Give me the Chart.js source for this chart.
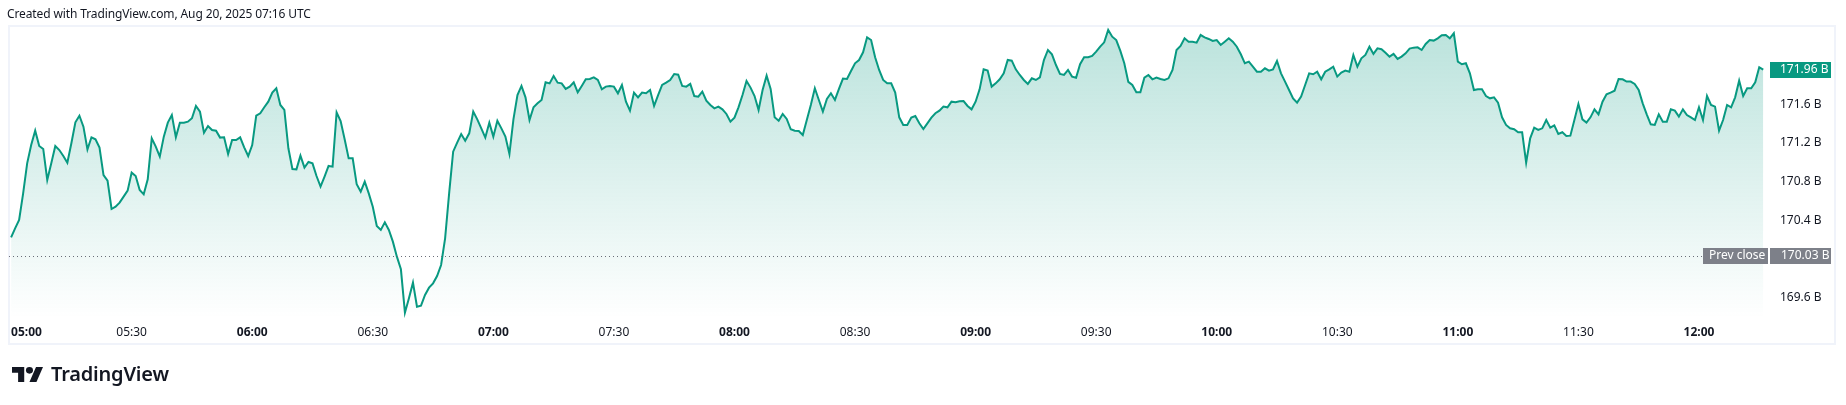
<!DOCTYPE html>
<html>
<head>
<meta charset="utf-8">
<title>Market cap, Aug 20, 2025</title>
<script src="https://cdn.jsdelivr.net/npm/chart.js@4.4.1/dist/chart.umd.min.js"></script>
<style>
  html, body { margin: 0; padding: 0; background: #fff; }
  body { width: 1846px; height: 405px; position: relative; overflow: hidden; font-family: "Noto Sans", sans-serif; }
  #chart { position: absolute; left: 0; top: 0; }
  #hdr { position: absolute; left: 7px; top: 6px; font-size: 12px; line-height: 16px; letter-spacing: -0.12px; color: #131722; white-space: nowrap; }
  #logo { position: absolute; left: 12px; top: 362px; height: 24px; display: flex; align-items: center; color: #131722; }
  #logo svg { display: block; margin-right: 8px; }
  #logo span { font-size: 20px; font-weight: 600; letter-spacing: -0.2px; line-height: 24px; }
</style>
</head>
<body>
<canvas id="chart" width="1846" height="405"></canvas>
<div id="hdr">Created with TradingView.com, Aug 20, 2025 07:16 UTC</div>
<div id="logo">
  <svg width="31" height="15" viewBox="0 4 35.5 18" preserveAspectRatio="none" fill="#131722">
    <path d="M14 22H7V11H0V4h14v18zM28 22h-8l7.5-18h8L28 22z"/><circle cx="20" cy="8" r="4"/>
  </svg>
  <span>TradingView</span>
</div>
<script>
// 1-minute values, in billions, starting 05:00
var h05 = [
  170.221, 170.315, 170.401, 170.677, 170.988, 171.178, 171.327, 171.168, 171.137, 170.816,
  170.988, 171.168, 171.126, 171.064, 170.995, 171.196, 171.413, 171.482, 171.368, 171.133,
  171.258, 171.237, 171.151, 170.867, 170.809, 170.515, 170.539, 170.581, 170.643, 170.705,
  170.892, 170.857, 170.712, 170.667, 170.823, 171.247, 171.161, 171.058, 171.265, 171.410,
  171.489, 171.258, 171.410, 171.410, 171.420, 171.455, 171.583, 171.524, 171.306, 171.375,
  171.334, 171.327, 171.255, 171.258, 171.085, 171.230, 171.230, 171.258, 171.154, 171.064
];
var h06 = [
  171.178, 171.482, 171.507, 171.569, 171.627, 171.721, 171.766, 171.593, 171.541, 171.144,
  170.930, 170.926, 171.068, 170.944, 171.002, 170.988, 170.857, 170.747, 170.851, 170.961,
  170.954, 171.517, 171.427, 171.237, 171.040, 171.040, 170.771, 170.695, 170.799, 170.677,
  170.539, 170.339, 170.298, 170.377, 170.298, 170.177, 170.021, 169.890, 169.441, 169.590,
  169.752, 169.503, 169.514, 169.624, 169.700, 169.745, 169.821, 169.935, 170.211, 170.677,
  171.109, 171.203, 171.292, 171.223, 171.299, 171.524, 171.444, 171.351, 171.255, 171.410
];
var h07 = [
  171.265, 171.430, 171.351, 171.265, 171.085, 171.444, 171.696, 171.790, 171.672, 171.437,
  171.569, 171.610, 171.645, 171.828, 171.817, 171.893, 171.824, 171.817, 171.759, 171.783,
  171.828, 171.724, 171.790, 171.859, 171.862, 171.879, 171.852, 171.755, 171.783, 171.790,
  171.783, 171.714, 171.800, 171.627, 171.534, 171.721, 171.672, 171.721, 171.714, 171.748,
  171.583, 171.696, 171.800, 171.824, 171.852, 171.914, 171.907, 171.790, 171.783, 171.811,
  171.686, 171.679, 171.731, 171.638, 171.593, 171.558, 171.576, 171.548, 171.500, 171.420
];
var h08 = [
  171.462, 171.569, 171.696, 171.842, 171.773, 171.686, 171.541, 171.748, 171.897, 171.759,
  171.465, 171.430, 171.500, 171.448, 171.341, 171.327, 171.323, 171.282, 171.437, 171.593,
  171.766, 171.645, 171.524, 171.655, 171.714, 171.645, 171.759, 171.866, 171.862, 171.945,
  172.025, 172.059, 172.139, 172.294, 172.266, 172.087, 171.956, 171.852, 171.817, 171.817,
  171.721, 171.465, 171.386, 171.386, 171.462, 171.479, 171.403, 171.344, 171.403, 171.462,
  171.507, 171.534, 171.576, 171.569, 171.627, 171.621, 171.631, 171.634, 171.583, 171.548
];
var h09 = [
  171.627, 171.755, 171.962, 171.949, 171.783, 171.817, 171.859, 171.921, 172.059, 172.052,
  171.962, 171.904, 171.852, 171.811, 171.869, 171.852, 171.879, 172.059, 172.163, 172.118,
  172.007, 171.914, 171.904, 171.956, 171.887, 171.876, 172.015, 172.087, 172.087, 172.101,
  172.146, 172.197, 172.242, 172.370, 172.301, 172.266, 172.156, 172.025, 171.832, 171.800,
  171.724, 171.724, 171.876, 171.904, 171.859, 171.876, 171.862, 171.852, 171.869, 171.956,
  172.163, 172.205, 172.284, 172.249, 172.249, 172.239, 172.318, 172.294, 172.277, 172.256
];
var h10 = [
  172.266, 172.215, 172.249, 172.284, 172.249, 172.197, 172.118, 172.025, 172.042, 171.990,
  171.938, 171.938, 171.973, 171.949, 171.962, 172.049, 171.921, 171.835, 171.748, 171.662,
  171.617, 171.679, 171.800, 171.921, 171.911, 171.938, 171.859, 171.938, 171.962, 171.990,
  171.887, 171.928, 171.949, 171.938, 172.111, 171.990, 172.077, 172.111, 172.197, 172.122,
  172.180, 172.170, 172.135, 172.094, 172.122, 172.070, 172.094, 172.128, 172.177, 172.187,
  172.190, 172.163, 172.225, 172.266, 172.260, 172.284, 172.315, 172.318, 172.284, 172.336
];
var h11 = [
  172.042, 172.015, 172.025, 171.921, 171.748, 171.755, 171.755, 171.686, 171.662, 171.672,
  171.617, 171.465, 171.386, 171.351, 171.341, 171.310, 171.310, 170.995, 171.247, 171.358,
  171.334, 171.351, 171.437, 171.358, 171.382, 171.292, 171.310, 171.272, 171.275, 171.437,
  171.603, 171.444, 171.410, 171.465, 171.548, 171.496, 171.627, 171.703, 171.721, 171.741,
  171.862, 171.859, 171.835, 171.835, 171.811, 171.748, 171.610, 171.496, 171.393, 171.386,
  171.496, 171.420, 171.420, 171.548, 171.534, 171.472, 171.548, 171.489, 171.465, 171.437
];
var h12 = [
  171.569, 171.437, 171.686, 171.593, 171.576, 171.327, 171.437, 171.593, 171.569, 171.672,
  171.845, 171.686, 171.766, 171.766, 171.828, 171.983, 171.960
];

var timeLabels = ['05:00', '05:30', '06:00', '06:30', '07:00', '07:30', '08:00', '08:30',
                  '09:00', '09:30', '10:00', '10:30', '11:00', '11:30', '12:00'];
var priceTicks = [169.6, 170.4, 170.8, 171.2, 171.6];
var prevClose = 170.03;
var lastPrice = 171.96;

var values = [].concat(h05, h06, h07, h08, h09, h10, h11, h12);
var points = values.map(function (v, i) { return { x: i, y: v }; });

var FONT = "'Noto Sans', sans-serif";
var GREEN = '#089981';

// frame, prev close line and the price labels on the right
var decor = {
  id: 'decor',
  beforeDraw: function (chart) {
    var c = chart.ctx;
    c.save();
    c.strokeStyle = '#f0f3fa';
    c.lineWidth = 2;
    c.strokeRect(9, 26, 1826, 318);
    c.restore();
  },
  afterDraw: function (chart) {
    var c = chart.ctx;
    var y = chart.scales.y;
    var area = chart.chartArea;
    var py = Math.round(y.getPixelForValue(prevClose)) + 0.5;
    c.save();
    c.strokeStyle = '#6a6d78';
    c.lineWidth = 1;
    c.setLineDash([1, 3]);
    c.beginPath();
    c.moveTo(area.left, py);
    c.lineTo(1703, py);
    c.stroke();
    c.setLineDash([]);

    c.font = '12px ' + FONT;
    c.textBaseline = 'middle';
    c.textAlign = 'left';
    // prev close
    var top = Math.round(y.getPixelForValue(prevClose)) - 8;
    c.fillStyle = '#7d8089';
    c.fillRect(1703, top, 65, 16);
    c.fillRect(1770, top, 61, 16);
    c.fillStyle = '#fff';
    c.fillText('Prev close', 1709, top + 8);
    c.fillText(prevClose.toFixed(2) + ' B', 1781, top + 8);
    // last value
    var lt = Math.round(y.getPixelForValue(lastPrice)) - 8;
    c.fillStyle = GREEN;
    c.fillRect(1770, lt, 61, 16);
    c.fillStyle = '#fff';
    c.fillText(lastPrice.toFixed(2) + ' B', 1780, lt + 8);
    c.restore();
  }
};

new Chart(document.getElementById('chart'), {
  type: 'line',
  data: {
    datasets: [{
      data: points,
      borderColor: GREEN,
      borderWidth: 2,
      pointRadius: 0,
      tension: 0,
      fill: 'start',
      backgroundColor: function (ctx) {
        var area = ctx.chart.chartArea;
        if (!area) return 'rgba(8,153,129,0.1)';
        var g = ctx.chart.ctx.createLinearGradient(0, area.top, 0, area.bottom);
        g.addColorStop(0, 'rgba(8,153,129,0.28)');
        g.addColorStop(1, 'rgba(8,153,129,0.0)');
        return g;
      }
    }]
  },
  options: {
    responsive: false,
    animation: false,
    devicePixelRatio: 1,
    layout: { padding: { left: 9, top: 27, right: 11, bottom: 61 } },
    plugins: { legend: { display: false }, tooltip: { enabled: false } },
    scales: {
      x: {
        type: 'linear',
        min: -0.52,
        max: 436.68,
        grid: { display: false, drawTicks: false },
        border: { display: false },
        afterBuildTicks: function (s) {
          var t = timeLabels.map(function (_, i) { return { value: i * 30 }; });
          t.push({ value: 436.68 });
          s.ticks = t;
        },
        afterFit: function (s) { s.height = 26; },
        ticks: {
          autoSkip: false,
          maxRotation: 0,
          align: 'inner',
          padding: 7,
          color: '#131722',
          font: function (ctx) {
            var bold = ctx.tick && ctx.tick.value % 60 === 0;
            return { family: FONT, size: 12, weight: bold ? 'bold' : 'normal' };
          },
          callback: function (v, i) { return timeLabels[i] || ''; }
        }
      },
      y: {
        position: 'right',
        min: 169.3855,
        max: 172.401,
        grid: { display: false, drawTicks: false },
        border: { display: false },
        afterBuildTicks: function (s) {
          s.ticks = priceTicks.map(function (v) { return { value: v }; });
        },
        afterFit: function (s) { s.width = 69; },
        ticks: {
          crossAlign: 'near',
          padding: 14,
          color: '#131722',
          font: { family: FONT, size: 12 },
          callback: function (v) { return Number(v).toFixed(1) + ' B'; }
        }
      }
    }
  },
  plugins: [decor]
});
</script>
</body>
</html>
